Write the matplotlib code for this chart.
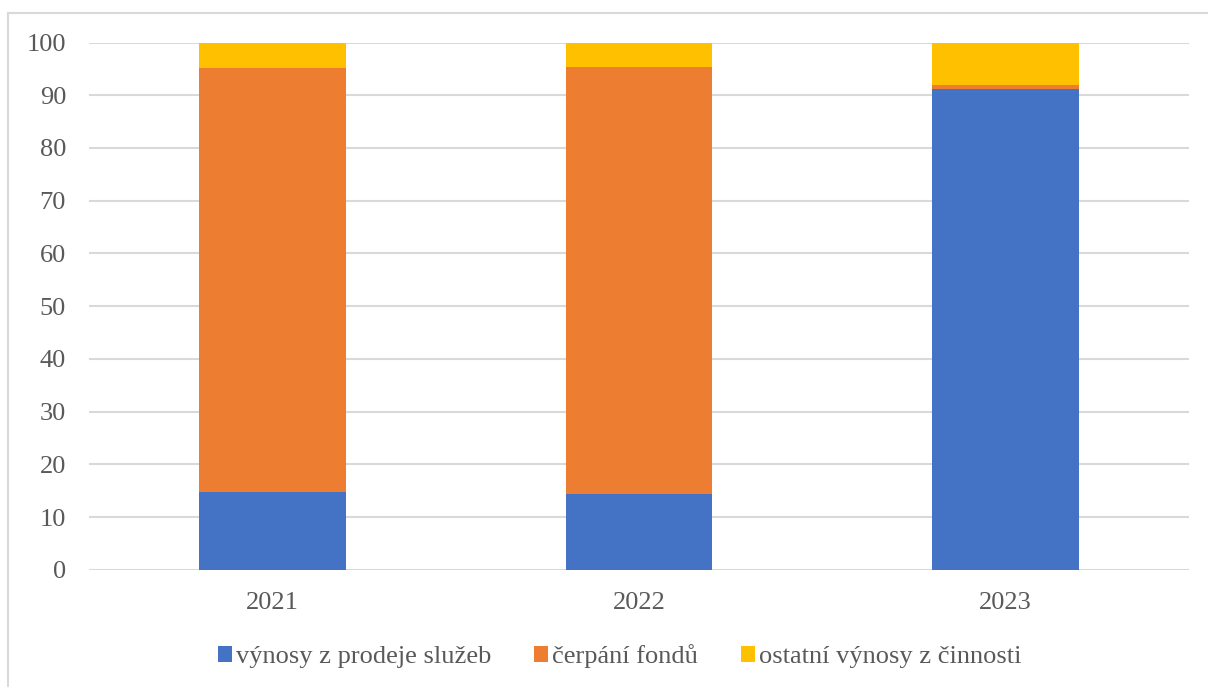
import numpy as np
import matplotlib.pyplot as plt
from matplotlib.lines import Line2D

years = ["2021", "2022", "2023"]
sluzby = [14.7, 14.4, 91.2]
fondy = [80.4, 81.0, 0.7]
ostatni = [4.9, 4.6, 8.1]
labels = ["výnosy z prodeje služeb", "čerpání fondů", "ostatní výnosy z činnosti"]
colors = ["#4472C4", "#ED7D31", "#FFC000"]

plt.rcParams['font.family'] = ['Liberation Serif', 'DejaVu Serif']

fig = plt.figure(figsize=(12.08, 6.87), dpi=100)
ax = fig.add_axes([0.0737, 0.1707, 0.9106, 0.7674])

x = np.arange(len(years))
bottom = np.zeros(len(years))
for vals, lab, c in zip([sluzby, fondy, ostatni], labels, colors):
    ax.bar(x, vals, width=0.4, bottom=bottom, color=c, label=lab, zorder=3)
    bottom += np.array(vals)

ax.set_xlim(-0.5, 2.5)
ax.set_ylim(0, 100)
ax.set_yticks(np.arange(0, 101, 10))
ax.set_xticks(x)
ax.set_xticklabels(years)
ax.grid(axis='y', color='#d9d9d9', linewidth=1.5, zorder=0)
for s in ax.spines.values():
    s.set_visible(False)
ax.tick_params(axis='both', length=0, labelsize=19, colors='#595959')
ax.tick_params(axis='y', pad=16.5)
ax.tick_params(axis='x', pad=16)

fig.legend(loc='center', bbox_to_anchor=(0.513, 0.045), ncol=3, frameon=False,
           fontsize=19, handlelength=0.55, handleheight=0.55, handletextpad=0.15,
           columnspacing=1.6, labelcolor='#595959')

# outer chart border (top and left visible)
fig.add_artist(Line2D([8/1208, 8/1208], [0, 1 - 13/687], color='#d9d9d9', lw=1.5))
fig.add_artist(Line2D([8/1208, 1], [1 - 13/687, 1 - 13/687], color='#d9d9d9', lw=1.5))

fig.savefig("out.png", dpi=100)
